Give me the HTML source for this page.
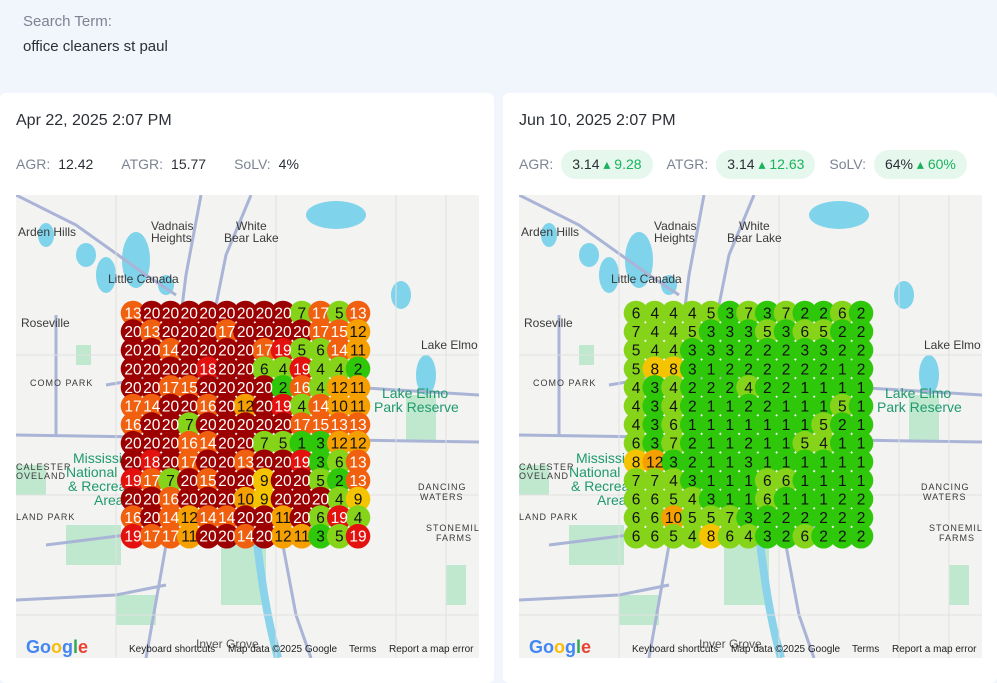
<!DOCTYPE html>
<html><head><meta charset="utf-8"><style>
*{margin:0;padding:0;box-sizing:border-box}
body{width:997px;height:670px;overflow:hidden;background:#f1f5fc;font-family:"Liberation Sans",sans-serif;position:relative}
.hdr1{position:absolute;left:23px;top:13px;font-size:15px;color:#7c8493}
.hdr2{position:absolute;left:23px;top:38px;font-size:15px;color:#2b2f36}
.panel{position:absolute;top:93px;width:494px;height:590px;background:#fff;border-radius:6px}
.date{position:absolute;left:16px;top:19px;font-size:16px;color:#2b2f36}
.stats{position:absolute;left:16px;top:56px;height:30px;display:flex;align-items:center;font-size:14px}
.lab{color:#7c8493;margin-right:8px}
.val{color:#2b2f36;margin-right:28px}
.pill{background:#e6f7ee;border-radius:15px;padding:6px 11px;margin-right:14px;color:#2b2f36}
.up{color:#19b35b}
.map{position:absolute;left:16px;top:102px;width:463px;height:463px;overflow:hidden}
</style></head><body>
<div class="hdr1">Search Term:</div>
<div class="hdr2">office cleaners st paul</div>
<div class="panel" style="left:0">
<div class="date">Apr 22, 2025 2:07 PM</div>
<div class="stats"><span class="lab">AGR:</span><span class="val">12.42</span><span class="lab">ATGR:</span><span class="val">15.77</span><span class="lab">SoLV:</span><span class="val">4%</span></div>
<div class="map" id="m1"></div>
</div>
<div class="panel" style="left:503px">
<div class="date">Jun 10, 2025 2:07 PM</div>
<div class="stats"><span class="lab">AGR:</span><span class="pill">3.14 <span class="up">▴ 9.28</span></span><span class="lab">ATGR:</span><span class="pill">3.14 <span class="up">▴ 12.63</span></span><span class="lab">SoLV:</span><span class="pill">64% <span class="up">▴ 60%</span></span></div>
<div class="map" id="m2"></div>
</div>
<script>
var A=[[13,20,20,20,20,20,20,20,20,7,17,5,13],[20,13,20,20,20,17,20,20,20,20,17,15,12],[20,20,14,20,20,20,20,17,19,5,6,14,11],[20,20,20,20,18,20,20,6,4,19,4,4,2],[20,20,17,15,20,20,20,20,2,16,4,12,11],[17,14,20,20,16,20,12,20,19,4,14,10,11],[16,20,20,7,20,20,20,20,20,17,15,13,13],[20,20,20,16,14,20,20,7,5,1,3,12,12],[20,18,20,17,20,20,13,20,20,19,3,6,13],[19,17,7,20,15,20,20,9,20,20,5,2,13],[20,20,16,20,20,20,10,9,20,20,20,4,9],[16,20,14,12,14,14,20,20,11,20,6,19,4],[19,17,17,11,20,20,14,20,12,11,3,5,19]];
var B=[[6,4,4,4,5,3,7,3,7,2,2,6,2],[7,4,4,5,3,3,3,5,3,6,5,2,2],[5,4,4,3,3,3,2,2,2,3,3,2,2],[5,8,8,3,1,2,2,2,2,2,2,1,2],[4,3,4,2,2,2,4,2,2,1,1,1,1],[4,3,4,2,1,1,2,2,1,1,1,5,1],[4,3,6,1,1,1,1,1,1,1,5,2,1],[6,3,7,2,1,1,2,1,1,5,4,1,1],[8,12,3,2,1,1,3,1,1,1,1,1,1],[7,7,4,3,1,1,1,6,6,1,1,1,1],[6,6,5,4,3,1,1,6,1,1,1,2,2],[6,6,10,5,5,7,3,2,2,2,2,2,2],[6,6,5,4,8,6,4,3,2,6,2,2,2]];
function col(v){if(v>=20)return'#9c0000';if(v>=18)return'#e3120f';if(v>=13)return'#f0600f';if(v>=10)return'#f5a000';if(v>=8)return'#f5c400';if(v>=4)return'#86d41a';return'#2ec70a';}
var base='<rect width="463" height="463" fill="#f3f3f1"/>'+
'<g fill="#7fd3ea"><ellipse cx="120" cy="65" rx="14" ry="28"/><ellipse cx="90" cy="80" rx="10" ry="18"/><ellipse cx="320" cy="20" rx="30" ry="14"/><ellipse cx="385" cy="100" rx="10" ry="14"/><ellipse cx="30" cy="40" rx="8" ry="12"/><ellipse cx="410" cy="180" rx="10" ry="20"/><ellipse cx="70" cy="60" rx="10" ry="12"/><ellipse cx="150" cy="90" rx="8" ry="10"/></g>'+
'<g fill="#bfe8cf"><rect x="390" y="200" width="30" height="45"/><rect x="330" y="150" width="18" height="18"/><rect x="60" y="150" width="15" height="20"/><rect x="50" y="330" width="55" height="40"/><rect x="205" y="350" width="45" height="60"/><rect x="430" y="370" width="20" height="40"/><rect x="0" y="270" width="30" height="30"/><rect x="100" y="400" width="40" height="30"/></g>'+
'<path d="M240,340 C245,380 250,420 262,463" stroke="#8ad3ea" stroke-width="8" fill="none"/>'+
'<g stroke="#a9b4d6" stroke-width="3" fill="none"><path d="M0,0 L60,30 L130,80 L160,100"/><path d="M90,190 L150,180 L300,190 L463,200"/><path d="M0,240 L463,247"/><path d="M30,350 L150,335 L250,345 L300,330"/><path d="M0,405 L100,400 L150,390"/><path d="M185,0 L170,80 L165,120"/><path d="M235,0 L210,60 L200,110"/><path d="M40,120 L40,240"/><path d="M265,340 L280,420 L295,463"/><path d="M150,350 L130,463"/></g>'+
'<g stroke="#e0e0e0" stroke-width="1"><path d="M0,160H463M0,300H463M0,420H463M100,0V463M260,0V463M380,0V463M430,0V463"/></g>'+
'<g font-size="12" fill="#3a3a3a" font-family="Liberation Sans,sans-serif"><text x="2" y="41">Arden Hills</text><text x="135" y="35">Vadnais</text><text x="135" y="47">Heights</text><text x="220" y="35">White</text><text x="208" y="47">Bear Lake</text><text x="92" y="88">Little Canada</text><text x="5" y="132">Roseville</text><text x="405" y="154">Lake Elmo</text><text x="14" y="191" font-size="9" letter-spacing="1">COMO PARK</text><text x="0" y="275" font-size="9" letter-spacing="1">CALESTER</text><text x="0" y="284" font-size="9" letter-spacing="1">OVELAND</text><text x="0" y="325" font-size="9" letter-spacing="1">LAND PARK</text><text x="402" y="295" font-size="9" letter-spacing="1">DANCING</text><text x="404" y="305" font-size="9" letter-spacing="1">WATERS</text><text x="410" y="336" font-size="9" letter-spacing="1">STONEMILL</text><text x="420" y="346" font-size="9" letter-spacing="1">FARMS</text><text x="180" y="453" fill="#555">Inver Grove</text></g>'+
'<g font-size="14" fill="#1e9a6e" font-family="Liberation Sans,sans-serif"><text x="366" y="203">Lake Elmo</text><text x="358" y="217">Park Reserve</text><text x="57" y="268">Mississi</text><text x="50" y="282">National</text><text x="52" y="296">&amp; Recrea</text><text x="78" y="310">Area</text></g>'+
'<g font-size="10" fill="#222" font-family="Liberation Sans,sans-serif"><text x="113" y="457">Keyboard shortcuts</text><text x="212" y="457">Map data ©2025 Google</text><text x="333" y="457">Terms</text><text x="373" y="457">Report a map error</text></g>'+
'<text x="10" y="458" font-size="18" font-weight="bold" fill="#4285f4" font-family="Liberation Sans,sans-serif">Go<tspan fill="#fbbc05">o</tspan><tspan fill="#4285f4">g</tspan><tspan fill="#34a853">l</tspan><tspan fill="#ea4335">e</tspan></text>';
function build(id,D){var s='<svg width="463" height="463" xmlns="http://www.w3.org/2000/svg">'+base;
for(var r=0;r<13;r++)for(var c=0;c<13;c++){var v=D[r][c],x=117+c*18.75,y=118+r*18.6;
s+='<circle cx="'+x+'" cy="'+y+'" r="12.3" fill="'+col(v)+'"/>';}
for(var r=0;r<13;r++)for(var c=0;c<13;c++){var v=D[r][c],x=117+c*18.75,y=118+r*18.6;
s+='<text x="'+x+'" y="'+(y+5.5)+'" text-anchor="middle" font-size="15.5" font-family="Liberation Sans,sans-serif" fill="'+(v>=13?'#fff':'#111')+'">'+v+'</text>';}
document.getElementById(id).innerHTML=s+'</svg>';}
build('m1',A);build('m2',B);
</script>
</body></html>
